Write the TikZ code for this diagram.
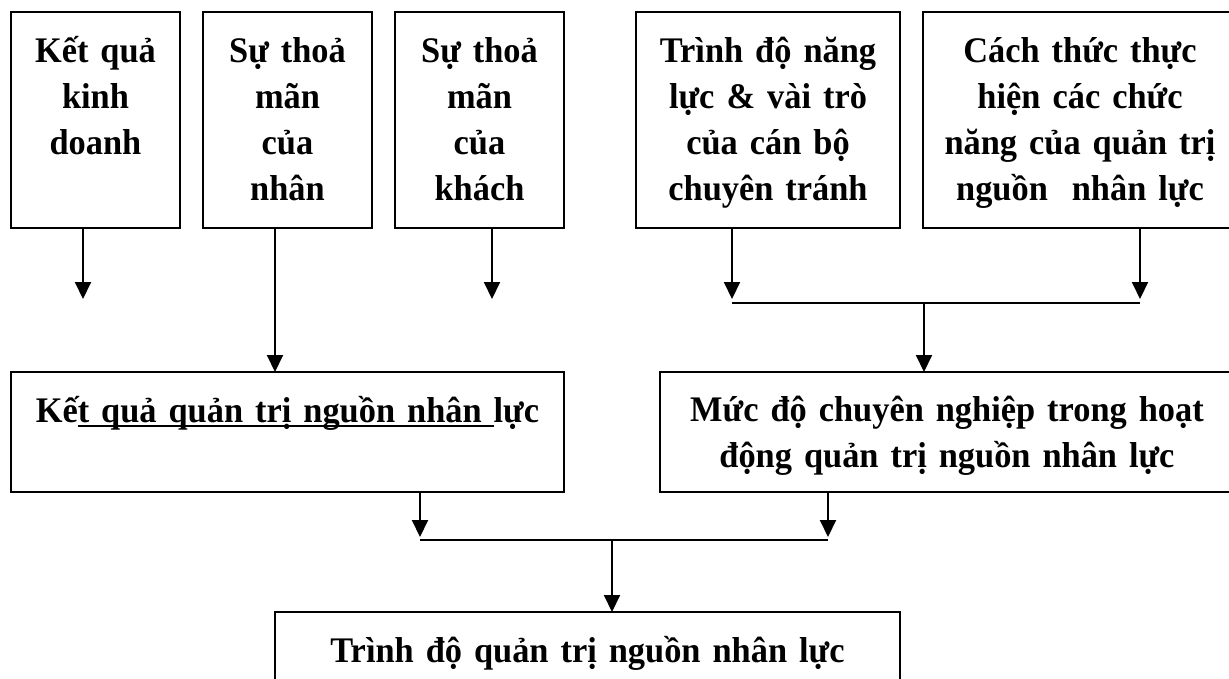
\documentclass[tikz,border=0pt]{standalone}
\usepackage{fontspec}
\setmainfont{Liberation Serif}[FakeStretch=0.955]
\usetikzlibrary{arrows.meta}
\newcommand\myul[1]{\setbox0\hbox{#1}\rlap{\rule[-5pt]{\wd0}{2pt}}\box0}
\begin{document}
\begin{tikzpicture}[x=1pt,y=-1pt,
  box/.style={draw, line width=2pt, inner sep=0pt, outer sep=0pt, anchor=north west},
  txt/.style={font=\fontsize{36}{46}\selectfont\bfseries, align=center, inner sep=0pt, anchor=base},
  arr/.style={line width=2pt, -{Triangle[width=16pt,length=17pt]}},
  ln/.style={line width=2pt}]
\fill[white] (0,0) rectangle (1229,678);
\useasboundingbox (0,0) rectangle (1229,678);
% boxes
\node[box, minimum width=169pt, minimum height=216pt] (b1) at (11,12) {};
\node[box, minimum width=169pt, minimum height=216pt] (b2) at (203,12) {};
\node[box, minimum width=169pt, minimum height=216pt] (b3) at (395,12) {};
\node[box, minimum width=264pt, minimum height=216pt] (b4) at (636,12) {};
\node[box, minimum width=314pt, minimum height=216pt] (b5) at (923,12) {};
\node[box, minimum width=553pt, minimum height=120pt] (k) at (11,372) {};
\node[box, minimum width=574pt, minimum height=120pt] (m) at (660,372) {};
\node[box, minimum width=625pt, minimum height=120pt] (t) at (275,612) {};
% texts
\node[txt, text width=165pt] (t1) at (95.5,62) {Kết quả\\kinh\\doanh};
\node[txt, text width=165pt] (t2) at (287.5,62) {Sự thoả\\mãn\\của\\nhân};
\node[txt, text width=165pt] (t3) at (479.5,62) {Sự thoả\\mãn\\của\\khách};
\node[txt, text width=260pt] (t4) at (768,62) {Trình độ năng\\lực \& vài trò\\của cán bộ\\chuyên tránh};
\node[txt, text width=310pt] (t5) at (1080,62) {Cách thức thực\\hiện các chức\\năng của quản trị\\nguồn~ nhân lực};
\node[txt, text width=549pt] (tk) at (287.5,422) {Kế\myul{t quả quản trị nguồn nhân }lực};
\node[txt, text width=566pt] (tm) at (947,421) {Mức độ chuyên nghiệp trong hoạt\\động quản trị nguồn nhân lực};
\node[txt, text width=620pt] (tt) at (587.5,662) {Trình độ quản trị nguồn nhân lực};
% connector points
\coordinate (a1) at (83,299);
\coordinate (c2) at (275,0);
\coordinate (a3) at (492,299);
\coordinate (a4) at (732,299);
\coordinate (a5) at (1140,299);
\coordinate (h1l) at (732,303);
\coordinate (h1r) at (1140,303);
\coordinate (h1m) at (924,303);
\coordinate (a6) at (420,537);
\coordinate (a7) at (828,537);
\coordinate (h2l) at (420,540);
\coordinate (h2r) at (828,540);
\coordinate (h2m) at (612,540);
% connectors
\draw[arr] (b1.south -| a1) -- (a1);
\draw[arr] (b2.south -| c2) -- (k.north -| c2);
\draw[arr] (b3.south -| a3) -- (a3);
\draw[arr] (b4.south -| a4) -- (a4);
\draw[arr] (b5.south -| a5) -- (a5);
\draw[ln] (h1l) -- (h1r);
\draw[arr] (h1m) -- (m.north -| h1m);
\draw[arr] (k.south -| a6) -- (a6);
\draw[arr] (m.south -| a7) -- (a7);
\draw[ln] (h2l) -- (h2r);
\draw[arr] (h2m) -- (t.north -| h2m);
\end{tikzpicture}
\end{document}
